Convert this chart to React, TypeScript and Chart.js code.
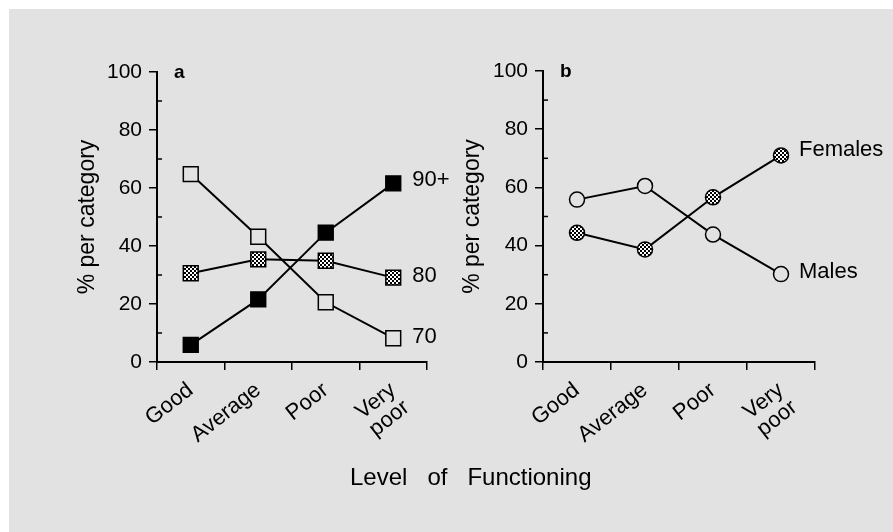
import React, { useEffect, useRef } from "react";
import { Chart, registerables } from "chart.js";

Chart.register(...registerables);

// ---- data ----
const categories: (string | string[])[] = ["Good", "Average", "Poor", ["Very", "poor"]];
const yTickStep = 20;
const yMin = 0;
const yMax = 100;
const minorTicks = [10, 30, 50, 70, 90];

const ageLabels = ["90+", "80", "70"];
const age90 = [5.9, 21.6, 44.6, 61.6];
const age80 = [30.6, 35.4, 34.9, 29.1];
const age70 = [64.8, 43.2, 20.6, 8.2];

const sexLabels = ["Females", "Males"];
const females = [44.4, 38.7, 56.6, 71.0];
const males = [55.8, 60.5, 43.8, 30.2];

const yTitle = "% per category";
const xTitle = "Level   of   Functioning";

// ---- style ----
const FONT = "'Liberation Sans', Arial, Helvetica, sans-serif";
const BG = "#e2e2e2";

function makePattern(): CanvasPattern | string {
  const c = document.createElement("canvas");
  c.width = 4;
  c.height = 4;
  const g = c.getContext("2d");
  if (!g) return "#777";
  g.fillStyle = "#fff";
  g.fillRect(0, 0, 4, 4);
  g.fillStyle = "#000";
  g.fillRect(0, 0, 2, 2);
  g.fillRect(2, 2, 2, 2);
  return g.createPattern(c, "repeat") || "#777";
}

const decor = {
  id: "decor",
  afterDraw(chart: any) {
    const o = chart.options.plugins.decor;
    const ctx = chart.ctx as CanvasRenderingContext2D;
    const y = chart.scales.y;
    const area = chart.chartArea;
    ctx.save();
    ctx.strokeStyle = "#000";
    ctx.lineWidth = 1.5;
    for (const v of minorTicks) {
      const py = y.getPixelForValue(v);
      ctx.beginPath();
      ctx.moveTo(area.left, py);
      ctx.lineTo(area.left + 5, py);
      ctx.stroke();
    }
    ctx.fillStyle = "#000";
    ctx.textAlign = "left";
    ctx.textBaseline = "middle";
    ctx.font = "bold 19px " + FONT;
    ctx.fillText(o.letter, area.left + 17, area.top + 1);
    ctx.font = "22px " + FONT;
    chart.data.datasets.forEach((ds: any, i: number) => {
      const meta = chart.getDatasetMeta(i);
      const pt = meta.data[meta.data.length - 1];
      ctx.fillText(ds.label, pt.x + o.labelDx, pt.y + (o.labelDy[i] || 0));
    });
    ctx.restore();
  },
};

function makeOptions(opts: {
  padLeft: number;
  padTop: number;
  padRight: number;
  yWidth: number;
  letter: string;
  labelDx: number;
  labelDy: number[];
}): any {
  return {
    responsive: false,
    animation: false,
    events: [],
    layout: { padding: { left: opts.padLeft, top: opts.padTop, right: opts.padRight, bottom: 0 } },
    plugins: {
      legend: { display: false },
      tooltip: { enabled: false },
      decor: { letter: opts.letter, labelDx: opts.labelDx, labelDy: opts.labelDy },
    },
    scales: {
      x: {
        type: "category",
        offset: true,
        grid: {
          offset: true,
          drawOnChartArea: false,
          drawTicks: true,
          tickLength: 8,
          color: "#000",
          lineWidth: 1.5,
        },
        border: { display: true, color: "#000", width: 2 },
        ticks: {
          minRotation: 38,
          maxRotation: 38,
          autoSkip: false,
          padding: 9,
          color: "#000",
          font: { size: 22, family: FONT, lineHeight: 1.0 },
        },
        afterFit: (s: any) => {
          s.height = 170;
        },
      },
      y: {
        min: yMin,
        max: yMax,
        ticks: {
          stepSize: yTickStep,
          padding: 7,
          color: "#000",
          font: { size: 21, family: FONT },
        },
        grid: {
          drawOnChartArea: false,
          tickLength: 8,
          color: "#000",
          lineWidth: 1.5,
        },
        border: { display: true, color: "#000", width: 2 },
        title: {
          display: true,
          text: yTitle,
          color: "#000",
          font: { size: 23, family: FONT },
          padding: { top: 4, bottom: 4 },
        },
        afterFit: (s: any) => {
          s.width = opts.yWidth;
        },
      },
    },
  };
}

const lineBase = {
  borderColor: "#000",
  borderWidth: 2,
  tension: 0,
  pointBorderColor: "#000",
  pointBorderWidth: 1.5,
  clip: false as any,
};

export default function App() {
  const refA = useRef<HTMLCanvasElement>(null);
  const refB = useRef<HTMLCanvasElement>(null);

  useEffect(() => {
    const pattern = makePattern();
    const chartA = new Chart(refA.current as HTMLCanvasElement, {
      type: "line",
      data: {
        labels: categories as any,
        datasets: [
          { ...lineBase, label: ageLabels[0], data: age90, pointStyle: "rect", pointRadius: 10.5, pointBackgroundColor: "#000" },
          { ...lineBase, label: ageLabels[1], data: age80, pointStyle: "rect", pointRadius: 10.5, pointBackgroundColor: pattern as any },
          { ...lineBase, label: ageLabels[2], data: age70, pointStyle: "rect", pointRadius: 10.5, pointBackgroundColor: BG },
        ],
      },
      options: makeOptions({
        padLeft: 70,
        padTop: 72,
        padRight: 43,
        yWidth: 87,
        letter: "a",
        labelDx: 19,
        labelDy: [-3, -2, -1],
      }),
      plugins: [decor],
    });
    const chartB = new Chart(refB.current as HTMLCanvasElement, {
      type: "line",
      data: {
        labels: categories as any,
        datasets: [
          { ...lineBase, label: sexLabels[0], data: females, pointStyle: "circle", pointRadius: 7.5, pointBackgroundColor: pattern as any },
          { ...lineBase, label: sexLabels[1], data: males, pointStyle: "circle", pointRadius: 7.5, pointBackgroundColor: BG },
        ],
      },
      options: makeOptions({
        padLeft: 25,
        padTop: 71,
        padRight: 78,
        yWidth: 88,
        letter: "b",
        labelDx: 18,
        labelDy: [-5, -2],
      }),
      plugins: [decor],
    });
    return () => {
      chartA.destroy();
      chartB.destroy();
    };
  }, []);

  return (
    <div style={{ position: "fixed", left: 0, top: 0, width: 893, height: 532, background: "#fff", overflow: "hidden" }}>
      <div style={{ position: "absolute", left: 9, top: 9, width: 884, height: 523, background: BG }} />
      <canvas ref={refA} width={470} height={532} style={{ position: "absolute", left: 0, top: 0, width: 470, height: 532 }} />
      <canvas ref={refB} width={463} height={532} style={{ position: "absolute", left: 430, top: 0, width: 463, height: 532 }} />
      <div
        style={{
          position: "absolute",
          left: 350,
          top: 465,
          fontFamily: FONT,
          fontSize: 24,
          lineHeight: "24px",
          whiteSpace: "pre",
          color: "#000",
        }}
      >
        {xTitle}
      </div>
    </div>
  );
}
